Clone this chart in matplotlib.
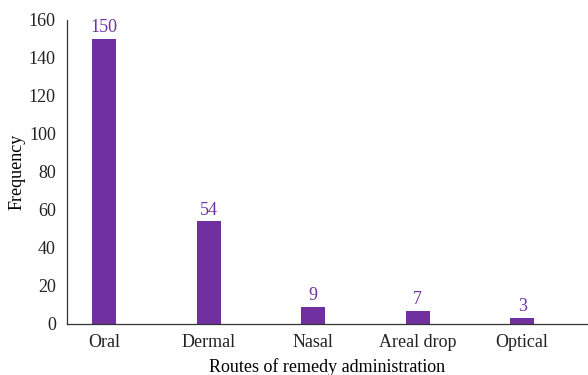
import matplotlib
matplotlib.use("Agg")
import matplotlib.pyplot as plt

routes = ["Oral", "Dermal", "Nasal", "Areal drop", "Optical"]
frequency = [150, 54, 9, 7, 3]

plt.rcParams["font.family"] = ["Liberation Serif", "DejaVu Serif"]
purple = "#7030A0"

fig = plt.figure(figsize=(5.88, 3.75), dpi=100)
ax = fig.add_axes([67 / 588, 1 - 324 / 375, (588 - 67) / 588, (324 - 20) / 375])

x = list(range(len(routes)))
ax.bar(x, frequency, width=0.23, color=purple)
for xi, v in zip(x, frequency):
    ax.text(xi, v + 1.5, str(v), ha="center", va="bottom", color=purple, fontsize=13)

ax.set_xlim(-0.355, 4.63)
ax.set_ylim(0, 160)
ax.set_yticks(range(0, 161, 20))
ax.set_xticks(x)
ax.set_xticklabels(routes)
ax.tick_params(axis="both", length=0, labelsize=13, colors="#222222")
ax.tick_params(axis="x", pad=7)
ax.tick_params(axis="y", pad=8)
for s in ["top", "right"]:
    ax.spines[s].set_visible(False)
for s in ["left", "bottom"]:
    ax.spines[s].set_color("#333333")
    ax.spines[s].set_linewidth(0.9)
ax.set_xlabel("Routes of remedy administration", fontsize=13, labelpad=5)
ax.set_ylabel("Frequency", fontsize=13)
ax.yaxis.set_label_coords(-0.08, 0.5)

fig.savefig("out.png", dpi=100)
